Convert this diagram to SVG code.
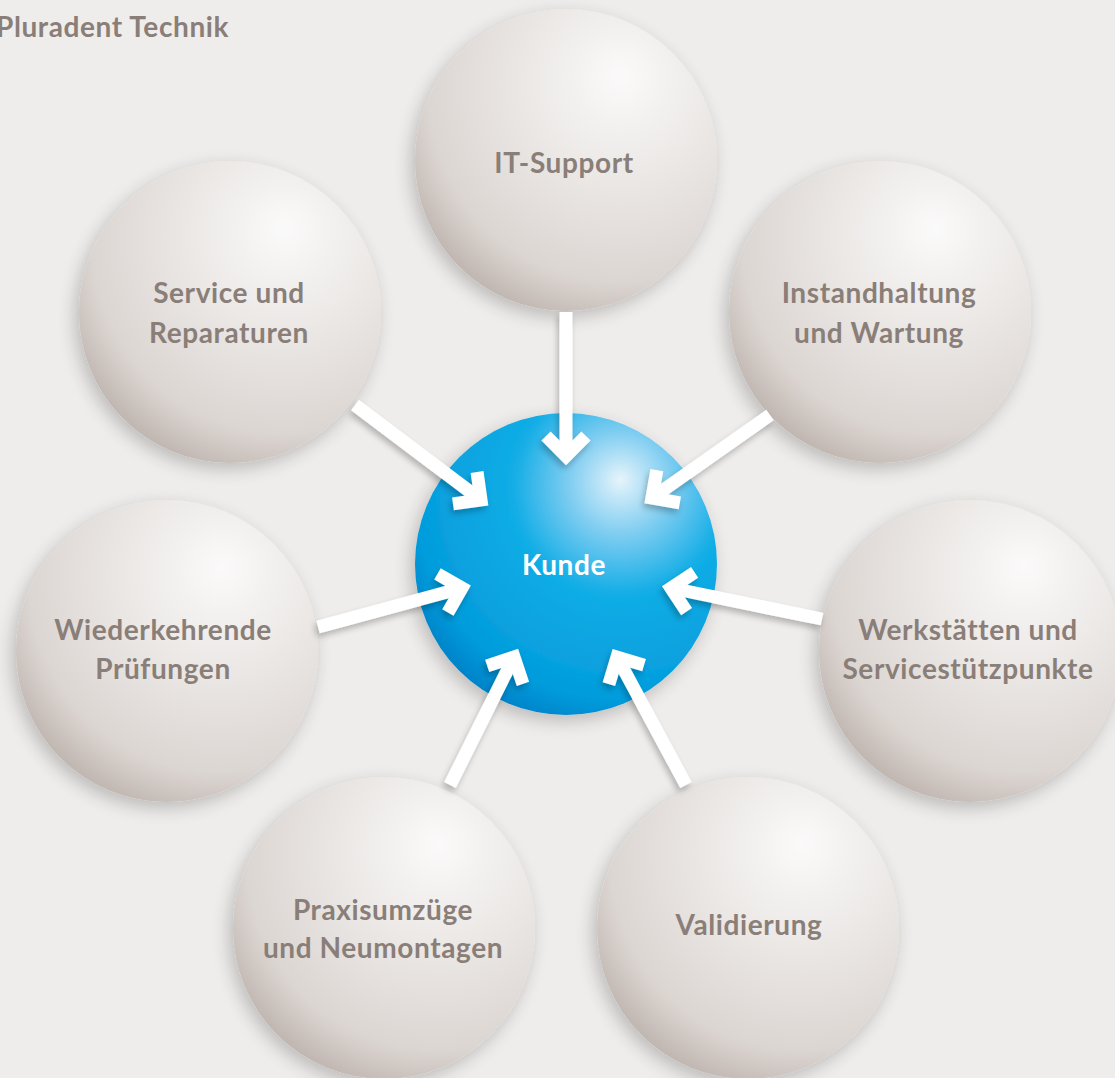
<svg xmlns="http://www.w3.org/2000/svg" width="1115" height="1078" viewBox="0 0 1115 1078">
<defs>
<radialGradient id="gGrey" cx="0.68" cy="0.28" r="0.85" fx="0.68" fy="0.22">
<stop offset="0" stop-color="#fbfafa"/>
<stop offset="0.35" stop-color="#ece9e7"/>
<stop offset="0.75" stop-color="#dcd6d2"/>
<stop offset="1" stop-color="#b5a9a3"/>
</radialGradient>
<radialGradient id="gBlue" cx="0.68" cy="0.28" r="0.85" fx="0.68" fy="0.22">
<stop offset="0" stop-color="#e6f4fb"/>
<stop offset="0.2" stop-color="#7fcdf1"/>
<stop offset="0.42" stop-color="#12ade6"/>
<stop offset="0.8" stop-color="#039cdc"/>
<stop offset="1" stop-color="#0074bd"/>
</radialGradient>
<filter id="sh" x="-30%" y="-30%" width="160%" height="160%">
<feGaussianBlur in="SourceAlpha" stdDeviation="9"/>
<feOffset dx="-4" dy="6" result="b"/>
<feComponentTransfer><feFuncA type="linear" slope="0.22"/></feComponentTransfer>
<feMerge><feMergeNode/><feMergeNode in="SourceGraphic"/></feMerge>
</filter>
<filter id="ash" x="-30%" y="-30%" width="160%" height="160%">
<feGaussianBlur in="SourceAlpha" stdDeviation="3"/>
<feOffset dx="-2" dy="4" result="b"/>
<feComponentTransfer><feFuncA type="linear" slope="0.25"/></feComponentTransfer>
<feMerge><feMergeNode/><feMergeNode in="SourceGraphic"/></feMerge>
</filter>
<marker id="chev" markerUnits="userSpaceOnUse" markerWidth="80" markerHeight="80" refX="0" refY="0" orient="auto" overflow="visible">
<path d="M-20,-20 L0,0 L-20,20" fill="none" stroke="#ffffff" stroke-width="13" stroke-linejoin="miter" stroke-miterlimit="4"/>
</marker>
<style>
.grey{fill:url(#gGrey);filter:url(#sh)}
.blue{fill:url(#gBlue);filter:url(#sh)}
.lbl{font-family:Lato,"Open Sans","DejaVu Sans",sans-serif;font-weight:700;font-size:28px;letter-spacing:0.6px;fill:#8a7e78;text-anchor:middle}
.arr{fill:none;stroke:#ffffff;stroke-width:13;marker-end:url(#chev)}
</style>
</defs>
<rect width="1115" height="1078" fill="#efedeb"/>
<text x="-4" y="37" font-family="Lato,'Open Sans',sans-serif" font-weight="700" font-size="28" letter-spacing="0.6" fill="#8a7e78">Pluradent Technik</text>

<g id="node-it"><circle class="grey" cx="566" cy="160" r="151"/></g>
<g id="node-service"><circle class="grey" cx="230" cy="312" r="151"/></g>
<g id="node-instand"><circle class="grey" cx="880" cy="312" r="151"/></g>
<g id="node-wieder"><circle class="grey" cx="167" cy="651" r="151"/></g>
<g id="node-werk"><circle class="grey" cx="970" cy="651" r="151"/></g>
<g id="node-praxis"><circle class="grey" cx="384" cy="928" r="151"/></g>
<g id="node-valid"><circle class="grey" cx="748" cy="928" r="151"/></g>
<g id="node-kunde"><circle class="blue" cx="566" cy="564" r="151"/></g>

<g id="connectors" filter="url(#ash)">
<path class="arr" d="M566,312 L566,456"/>
<path class="arr" d="M355,405 L481,500"/>
<path class="arr" d="M770,415 L652,498"/>
<path class="arr" d="M318,627 L462,588"/>
<path class="arr" d="M822,619 L671,588"/>
<path class="arr" d="M450,785 L514,657"/>
<path class="arr" d="M686,785 L617,657"/>
</g>

<g id="labels">
<text class="lbl" x="564" y="173">IT-Support</text>
<text class="lbl" x="229" y="303">Service und</text>
<text class="lbl" x="229" y="343">Reparaturen</text>
<text class="lbl" x="879" y="303">Instandhaltung</text>
<text class="lbl" x="879" y="343">und Wartung</text>
<text class="lbl" x="163" y="640">Wiederkehrende</text>
<text class="lbl" x="163" y="679">Prüfungen</text>
<text class="lbl" x="968" y="640">Werkstätten und</text>
<text class="lbl" x="968" y="679">Servicestützpunkte</text>
<text class="lbl" x="383" y="920">Praxisumzüge</text>
<text class="lbl" x="383" y="958">und Neumontagen</text>
<text class="lbl" x="749" y="935">Validierung</text>
<text class="lbl" x="564" y="575" style="fill:#ffffff">Kunde</text>
</g>
</svg>
